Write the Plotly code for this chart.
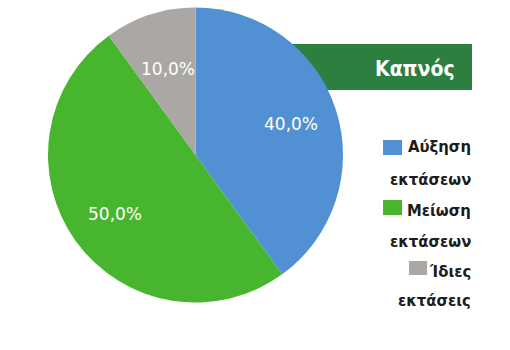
import math
import plotly.graph_objects as go

labels = ["Αύξηση εκτάσεων", "Μείωση εκτάσεων", "Ίδιες εκτάσεις"]
values = [40, 50, 10]
colors = ["#5191d3", "#48b52e", "#aba7a5"]
title = "Καπνός"
legend_lines = [["Αύξηση", "εκτάσεων"], ["Μείωση", "εκτάσεων"], ["Ίδιες", "εκτάσεις"]]

W, H = 510, 350
CX, CY, R = 195.5, 155, 147.5
label_r = [0.68, 0.675, 0.61]
FONT = "Liberation Sans Narrow, DejaVu Sans Condensed"

fig = go.Figure()
fig.add_trace(go.Pie(
    labels=labels, values=values, sort=False, direction="clockwise", rotation=0,
    marker=dict(colors=colors, line=dict(width=0)),
    textinfo="none",
    domain=dict(x=[(CX - R) / W, (CX + R) / W], y=[1 - (CY + R) / H, 1 - (CY - R) / H]),
    showlegend=False, hoverinfo="skip",
))

# percentage labels placed at slice mid-angles
total = sum(values)
acc = 0
for i, v in enumerate(values):
    mid = (acc + v / 2) / total * 2 * math.pi
    acc += v
    px = CX + label_r[i] * R * math.sin(mid)
    py = CY - label_r[i] * R * math.cos(mid)
    txt = f"{100 * v / total:.1f}%".replace(".", ",")
    fig.add_annotation(xref="paper", yref="paper", x=px / W, y=1 - py / H, xanchor="center", yanchor="middle",
                       text=txt, showarrow=False, font=dict(family="DejaVu Sans", size=17, color="white"))

# banner
fig.add_shape(type="rect", xref="paper", yref="paper", x0=280 / W, x1=472 / W,
              y0=1 - 90 / H, y1=1 - 44 / H, fillcolor="#2c7f3e", line=dict(width=0), layer="below")
fig.add_annotation(xref="paper", yref="paper", x=457 / W, y=1 - 68.5 / H, xanchor="right", yanchor="middle",
                   text="<b>" + title + "</b>", showarrow=False,
                   font=dict(family=FONT, size=21, color="white"))

# legend
line_y = [146.5, 179.5, 210.5, 241.5, 271.5, 300.5]
sq = [(383, 140, 19, 15), (383, 200, 19, 15), (409, 261, 18, 14)]
k = 0
for i, lines in enumerate(legend_lines):
    x0, y0, w, h = sq[i]
    fig.add_shape(type="rect", xref="paper", yref="paper", x0=x0 / W, x1=(x0 + w) / W,
                  y0=1 - (y0 + h) / H, y1=1 - y0 / H, fillcolor=colors[i], line=dict(width=0))
    for ln in lines:
        fig.add_annotation(xref="paper", yref="paper", x=473 / W, y=1 - line_y[k] / H,
                           xanchor="right", yanchor="middle", text="<b>" + ln + "</b>", showarrow=False,
                           font=dict(family=FONT, size=16.5, color="#1c1c1c"))
        k += 1

fig.update_layout(width=W, height=H, margin=dict(l=0, r=0, t=0, b=0),
                  paper_bgcolor="white", plot_bgcolor="white")
fig.write_html("out.html")
